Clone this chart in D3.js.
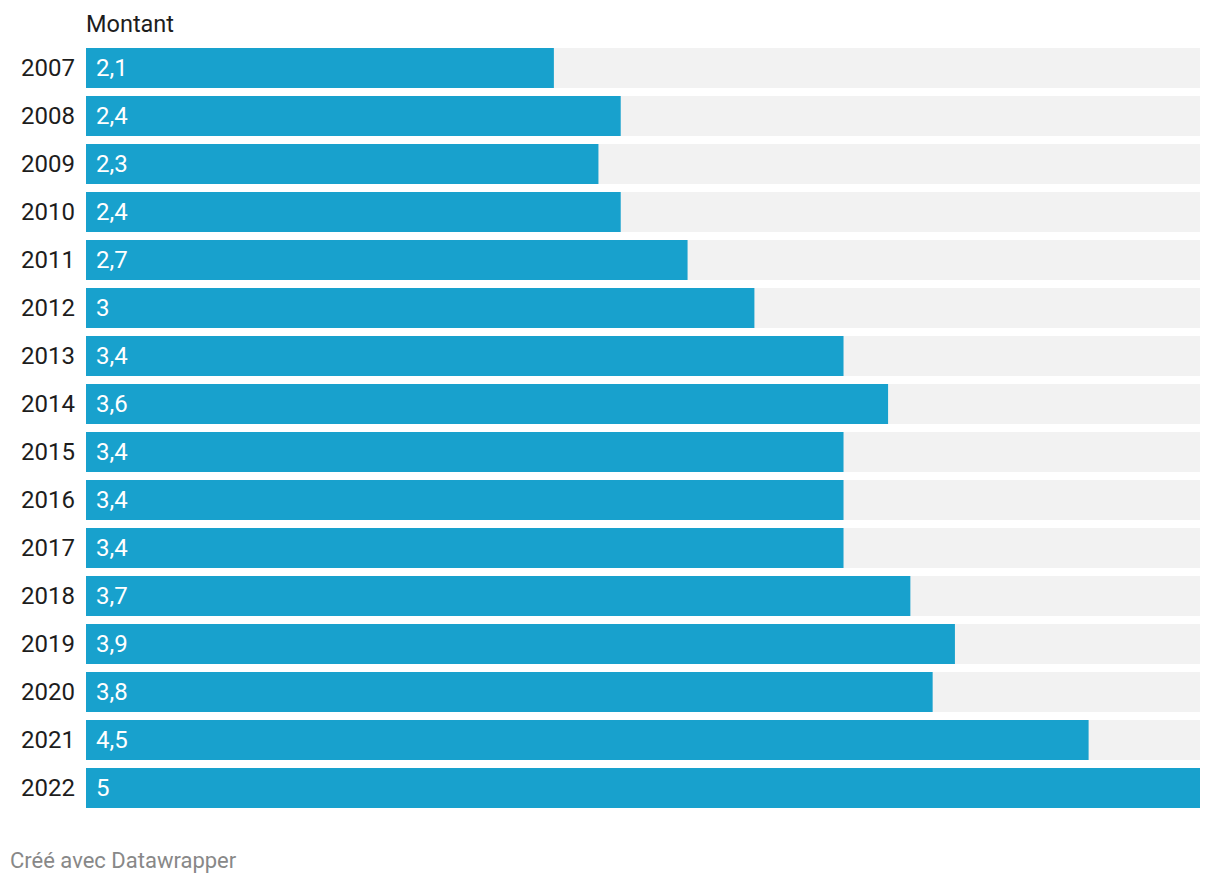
<!DOCTYPE html>
<html><head><meta charset="utf-8">
<script src="https://cdn.jsdelivr.net/npm/d3@7"></script>
<style>body{margin:0;background:#fff;font-family:Roboto,sans-serif;}</style>
</head><body>
<svg id="c" width="1220" height="884"></svg>
<script>
const years = ["2007","2008","2009","2010","2011","2012","2013","2014","2015","2016","2017","2018","2019","2020","2021","2022"];
const values = [2.1,2.4,2.3,2.4,2.7,3,3.4,3.6,3.4,3.4,3.4,3.7,3.9,3.8,4.5,5];
const title = "Montant";
const footer = "Créé avec Datawrapper";

const svg = d3.select("#c");
const x = d3.scaleLinear().domain([0, 5]).range([86, 1200]);
const y = d3.scaleBand().domain(years).range([48, 808]).paddingInner(8/48).paddingOuter(0);
const bh = y.bandwidth();
const fmt = v => String(v).replace(".", ",");

svg.append("text").attr("x", 86).attr("y", 32).attr("font-size", 23.5).attr("fill", "#1d1d1d").text(title);

const g = svg.selectAll("g.row").data(years.map((yr,i)=>({yr, v: values[i]}))).enter().append("g");
g.append("rect").attr("x", x(0)).attr("y", d=>y(d.yr)).attr("width", x(5)-x(0)).attr("height", bh).attr("fill", "#f2f2f2");
g.append("rect").attr("x", x(0)).attr("y", d=>y(d.yr)).attr("width", d=>x(d.v)-x(0)).attr("height", bh).attr("fill", "#18a1cd");
g.append("text").attr("x", 75).attr("y", d=>y(d.yr)+bh/2).attr("dy", "0.35em").attr("text-anchor","end").attr("font-size", 24).attr("fill","#1d1d1d").text(d=>d.yr);
g.append("text").attr("x", 96).attr("y", d=>y(d.yr)+bh/2).attr("dy", "0.35em").attr("font-size", 24).attr("fill","#fff").text(d=>fmt(d.v));

svg.append("text").attr("x", 10).attr("y", 868).attr("font-size", 22).attr("fill", "#888").text(footer);
</script>
</body></html>
